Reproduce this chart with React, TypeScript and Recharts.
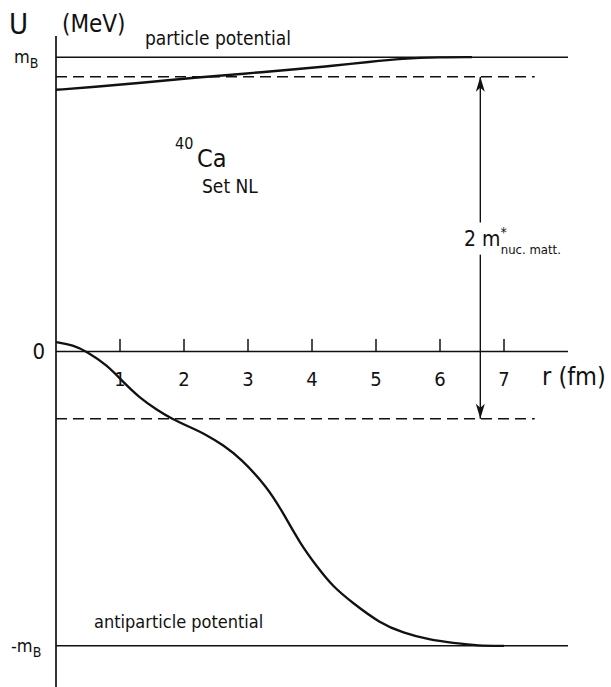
import React from 'react';
import { ComposedChart, Line, XAxis, YAxis, ReferenceLine, ReferenceDot } from 'recharts';

// radius in fm, potential in units of m_B
const particleR = [0, 0.6, 1.3, 2.2, 2.9, 3.8, 4.3, 4.9, 5.4, 6.0, 6.5];
const particleU = [0.889, 0.899, 0.912, 0.931, 0.943, 0.96, 0.97, 0.984, 0.995, 1.0, 1.0];

const antiR = [0, 0.27, 0.48, 0.8, 1.05, 1.31, 1.58, 1.81, 2.09, 2.36, 2.61, 2.88, 3.3, 3.55, 3.81, 4.08, 4.33, 4.64, 5.06, 5.42, 5.84, 6.2, 6.6, 7.0];
const antiU = [0.032, 0.022, 0.0, -0.046, -0.104, -0.158, -0.199, -0.229, -0.257, -0.284, -0.318, -0.362, -0.46, -0.549, -0.651, -0.732, -0.8, -0.855, -0.923, -0.956, -0.98, -0.99, -1.0, -1.0];

const rTicks = [1, 2, 3, 4, 5, 6, 7];
const uTicks = [1, 0, -1];

const effMassTop = 0.933;     // dashed line, particle side
const effMassBottom = -0.229; // dashed line, antiparticle side
const arrowR = 6.63;

const particle = particleR.map((r, i) => ({ r, u: particleU[i] }));
const antiparticle = antiR.map((r, i) => ({ r, u: antiU[i] }));

const FONT = '"DejaVu Sans Condensed", "DejaVu Sans", sans-serif';
const INK = '#111';

const YTick = (props: any) => {
    const { x, y, payload } = props;
    const v = payload.value;
    if (v === 0) {
        return <text x={x - 3} y={y + 8} textAnchor="end" fontSize={22} fill={INK} fontFamily={FONT}>0</text>;
    }
    return (
        <text x={x + (v > 0 ? -34 : -37)} y={y + 6} fontSize={18} fill={INK} fontFamily={FONT}>
            {v < 0 ? '-' : ''}m<tspan fontSize={14} dy={5}>B</tspan>
        </text>
    );
};

const ArrowHead = (dir: 'up' | 'down') => (props: any) => {
    const { cx, cy } = props;
    const s = dir === 'up' ? 1 : -1;
    return (
        <path
            d={`M${cx},${cy} L${cx - 4.5},${cy + s * 15} L${cx},${cy + s * 11} L${cx + 4.5},${cy + s * 15} Z`}
            fill={INK}
        />
    );
};

const TickLabel = (props: any) => {
    const { cx, cy, label } = props;
    return <text x={cx} y={cy + 35} textAnchor="middle" fontSize={20} fill={INK} fontFamily={FONT}>{label}</text>;
};

const txt: React.CSSProperties = { position: 'absolute', fontFamily: FONT, color: INK, whiteSpace: 'nowrap', lineHeight: 1 };

const App: React.FC = () => {
    return (
        <div style={{ position: 'relative', width: 611, height: 687, background: '#fff' }}>
            <style>{`body{margin:0}`}</style>
            <ComposedChart width={611} height={687} margin={{ top: 13, right: 11, bottom: 0, left: 0 }}>
                <XAxis dataKey="r" type="number" domain={[0, 8.5]} hide allowDataOverflow />
                <YAxis
                    type="number"
                    domain={[-1.14, 1.15]}
                    ticks={uTicks}
                    width={56}
                    axisLine={false}
                    tickLine={false}
                    tick={<YTick />}
                    allowDataOverflow
                />
                {/* axes */}
                <ReferenceLine segment={[{ x: 0, y: -1.14 }, { x: 0, y: 1.072 }]} stroke={INK} strokeWidth={1.7} />
                <ReferenceLine segment={[{ x: 0, y: 0 }, { x: 8.0, y: 0 }]} stroke={INK} strokeWidth={1.6} />
                {rTicks.map((t) => (
                    <ReferenceLine key={`t${t}`} segment={[{ x: t, y: 0 }, { x: t, y: 0.042 }]} stroke={INK} strokeWidth={1.5} />
                ))}
                {rTicks.map((t) => (
                    <ReferenceDot key={`l${t}`} x={t} y={0} r={0} shape={(p: any) => <TickLabel {...p} label={t} />} />
                ))}
                {/* rest mass lines */}
                <ReferenceLine segment={[{ x: 0, y: 1 }, { x: 8.0, y: 1 }]} stroke={INK} strokeWidth={1.5} />
                <ReferenceLine segment={[{ x: 0, y: -1 }, { x: 8.0, y: -1 }]} stroke={INK} strokeWidth={1.5} />
                {/* nuclear matter effective mass */}
                <ReferenceLine segment={[{ x: 0, y: effMassTop }, { x: 7.48, y: effMassTop }]} stroke={INK} strokeWidth={1.5} strokeDasharray="11 6" />
                <ReferenceLine segment={[{ x: 0, y: effMassBottom }, { x: 7.48, y: effMassBottom }]} stroke={INK} strokeWidth={1.5} strokeDasharray="11 6" />
                <ReferenceLine segment={[{ x: arrowR, y: effMassTop }, { x: arrowR, y: 0.438 }]} stroke={INK} strokeWidth={1.4} />
                <ReferenceLine segment={[{ x: arrowR, y: 0.329 }, { x: arrowR, y: effMassBottom }]} stroke={INK} strokeWidth={1.4} />
                <ReferenceDot x={arrowR} y={effMassTop} r={0} shape={ArrowHead('up')} />
                <ReferenceDot x={arrowR} y={effMassBottom} r={0} shape={ArrowHead('down')} />
                {/* potentials */}
                <Line data={particle} dataKey="u" type="basis" stroke={INK} strokeWidth={2.4} dot={false} isAnimationActive={false} />
                <Line data={antiparticle} dataKey="u" type="basis" stroke={INK} strokeWidth={2.3} dot={false} isAnimationActive={false} />
            </ComposedChart>

            <div style={{ ...txt, left: 9, top: 10, fontSize: 29 }}>U</div>
            <div style={{ ...txt, left: 62, top: 12, fontSize: 24 }}>(MeV)</div>
            <div style={{ ...txt, left: 145, top: 29, fontSize: 19 }}>particle potential</div>
            <div style={{ ...txt, left: 94, top: 613, fontSize: 18 }}>antiparticle potential</div>
            <div style={{ ...txt, left: 542, top: 364, fontSize: 25 }}>r (fm)</div>
            <div style={{ ...txt, left: 175, top: 136, fontSize: 16 }}>40</div>
            <div style={{ ...txt, left: 197, top: 146, fontSize: 25 }}>Ca</div>
            <div style={{ ...txt, left: 202, top: 177, fontSize: 19 }}>Set NL</div>
            <div style={{ ...txt, left: 464, top: 229, fontSize: 21 }}>
                2 m<sup style={{ fontSize: 14, verticalAlign: 'top', position: 'relative', top: -4 }}>*</sup>
                <sub style={{ fontSize: 13, position: 'relative', top: 3, marginLeft: -6 }}>nuc. matt.</sub>
            </div>
        </div>
    );
};

export default App;
